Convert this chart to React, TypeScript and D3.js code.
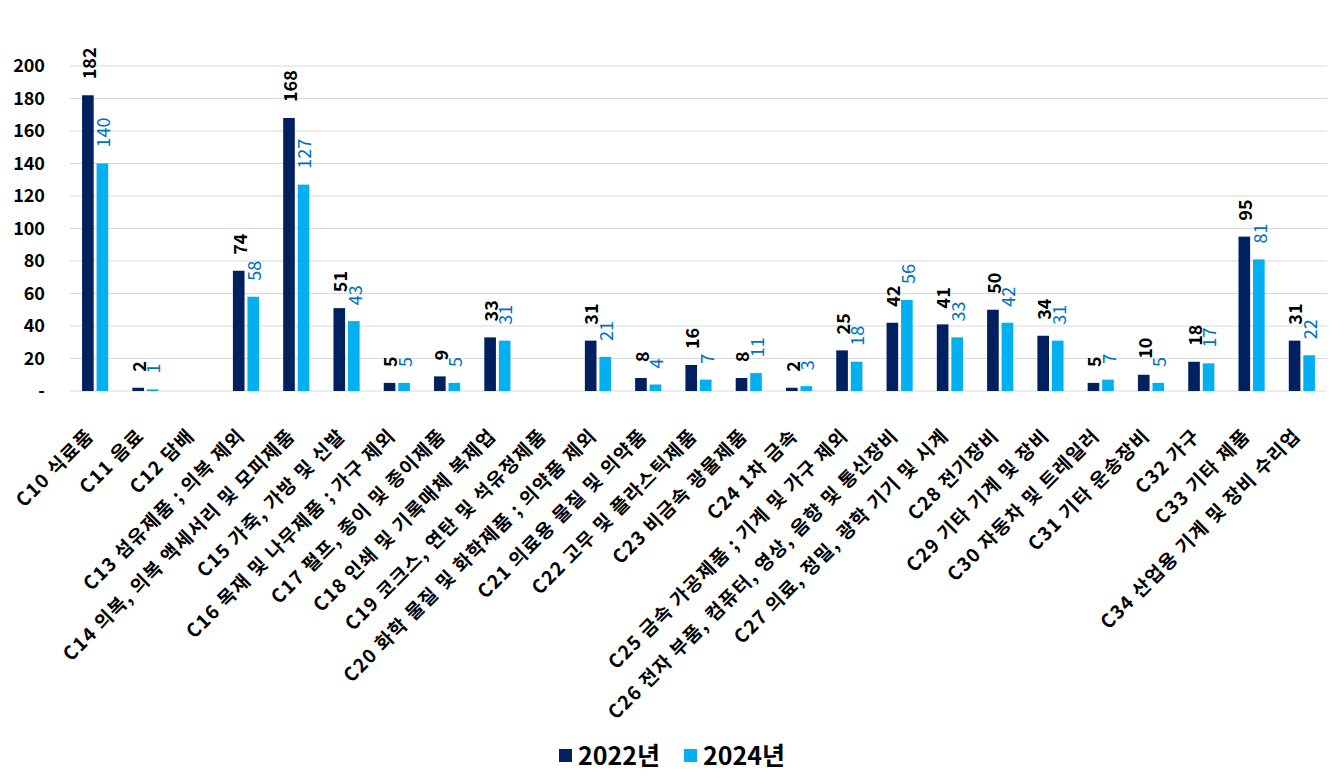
import React, { useEffect, useRef } from 'react';
import * as d3 from 'd3';

const categories = [
  'C10 식료품',
  'C11 음료',
  'C12 담배',
  'C13 섬유제품 ; 의복 제외',
  'C14 의복, 의복 액세서리 및 모피제품',
  'C15 가죽, 가방 및 신발',
  'C16 목재 및 나무제품 ; 가구 제외',
  'C17 펄프, 종이 및 종이제품',
  'C18 인쇄 및 기록매체 복제업',
  'C19 코크스, 연탄 및 석유정제품',
  'C20 화학 물질 및 화학제품 ; 의약품 제외',
  'C21 의료용 물질 및 의약품',
  'C22 고무 및 플라스틱제품',
  'C23 비금속 광물제품',
  'C24 1차 금속',
  'C25 금속 가공제품 ; 기계 및 가구 제외',
  'C26 전자 부품, 컴퓨터, 영상, 음향 및 통신장비',
  'C27 의료, 정밀, 광학 기기 및 시계',
  'C28 전기장비',
  'C29 기타 기계 및 장비',
  'C30 자동차 및 트레일러',
  'C31 기타 운송장비',
  'C32 가구',
  'C33 기타 제품',
  'C34 산업용 기계 및 장비 수리업',
];

const values2022: (number | null)[] = [182, 2, null, 74, 168, 51, 5, 9, 33, null, 31, 8, 16, 8, 2, 25, 42, 41, 50, 34, 5, 10, 18, 95, 31];
const values2024: (number | null)[] = [140, 1, null, 58, 127, 43, 5, 5, 31, null, 21, 4, 7, 11, 3, 18, 56, 33, 42, 31, 7, 5, 17, 81, 22];

const seriesNames = ['2022년', '2024년'];
const yTicks = [0, 20, 40, 60, 80, 100, 120, 140, 160, 180, 200];

const W = 1339;
const H = 779;
const FONT = '"Noto Sans CJK KR", "Noto Sans", sans-serif';

const App: React.FC = () => {
  const svgRef = useRef<SVGSVGElement>(null);

  useEffect(() => {
    if (!svgRef.current) return;
    const svg = d3.select(svgRef.current);
    svg.selectAll('*').remove();

    const left = 70, right = 1327, top = 66, bottom = 391;
    const colors = ['#002060', '#00B0F0'];
    const labelColors = ['#000000', '#0070C0'];

    const x0 = d3.scaleBand<string>()
      .domain(categories)
      .range([left, right])
      .paddingInner(0.48)
      .paddingOuter(0.24);

    const x1 = d3.scaleBand<string>()
      .domain(seriesNames)
      .range([0, x0.bandwidth()])
      .paddingInner(0.2);

    const y = d3.scaleLinear().domain([0, 200]).range([bottom, top]);

    // Gridlines
    svg.append('g')
      .selectAll('line')
      .data(yTicks)
      .enter().append('line')
      .attr('x1', left)
      .attr('x2', right)
      .attr('y1', d => y(d))
      .attr('y2', d => y(d))
      .attr('stroke', '#d9d9d9')
      .attr('stroke-width', 1);

    // Y tick labels
    svg.append('g')
      .selectAll('text')
      .data(yTicks)
      .enter().append('text')
      .attr('x', 45)
      .attr('y', d => y(d))
      .attr('dy', '0.35em')
      .attr('text-anchor', 'end')
      .style('font-family', FONT)
      .style('font-size', '18px')
      .style('font-weight', 'bold')
      .style('fill', '#000')
      .text(d => (d === 0 ? '-' : String(d)));

    const series = [values2022, values2024];

    series.forEach((vals, si) => {
      const name = seriesNames[si];
      const rows = categories
        .map((c, i) => ({ c, v: vals[i] }))
        .filter(d => d.v !== null) as { c: string; v: number }[];

      svg.append('g')
        .selectAll('rect')
        .data(rows)
        .enter().append('rect')
        .attr('x', d => (x0(d.c) || 0) + (x1(name) || 0))
        .attr('y', d => y(d.v))
        .attr('width', x1.bandwidth())
        .attr('height', d => bottom - y(d.v))
        .attr('fill', colors[si]);

      svg.append('g')
        .selectAll('text')
        .data(rows)
        .enter().append('text')
        .attr('transform', d => {
          const cx = (x0(d.c) || 0) + (x1(name) || 0) + x1.bandwidth() / 2 + 1.5;
          const cy = y(d.v) - 16;
          return `translate(${cx},${cy}) rotate(-90)`;
        })
        .attr('dy', '0.35em')
        .attr('text-anchor', 'start')
        .style('font-family', FONT)
        .style('font-size', '18px')
        .style('font-weight', si === 0 ? 'bold' : 'normal')
        .style('fill', labelColors[si])
        .text(d => String(d.v));
    });

    // X category labels
    svg.append('g')
      .selectAll('text')
      .data(categories)
      .enter().append('text')
      .attr('transform', d => {
        const cx = (x0(d) || 0) + x0.bandwidth() / 2;
        return `translate(${cx},${bottom + 46}) rotate(-45)`;
      })
      .attr('text-anchor', 'end')
      .style('font-family', FONT)
      .style('font-size', '19px')
      .style('letter-spacing', '1.3px')
      .style('font-weight', 'bold')
      .style('fill', '#000')
      .text(d => d);

    // Legend
    const legend = svg.append('g');
    const legendX = [559, 684];
    seriesNames.forEach((n, i) => {
      legend.append('rect')
        .attr('x', legendX[i])
        .attr('y', 749)
        .attr('width', 13)
        .attr('height', 13)
        .attr('fill', colors[i]);
      legend.append('text')
        .attr('x', legendX[i] + 19)
        .attr('y', 765)
        .style('font-family', FONT)
        .style('font-size', '25px')
        .style('font-weight', 'bold')
        .style('fill', '#000')
        .text(n);
    });
  }, []);

  return (
    <svg
      ref={svgRef}
      width={W}
      height={H}
      style={{ position: 'absolute', left: 0, top: 0, background: '#fff' }}
    />
  );
};

export default App;
